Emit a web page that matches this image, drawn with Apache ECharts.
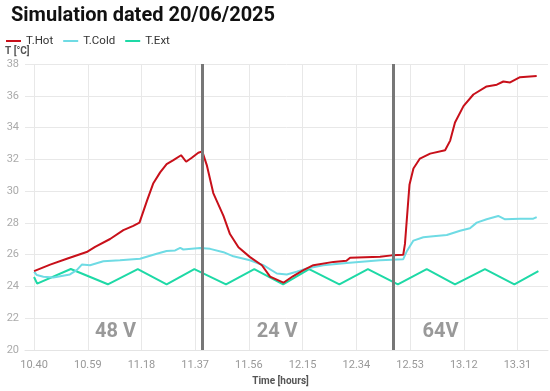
<!DOCTYPE html>
<html><head><meta charset="utf-8">
<script src="https://cdn.jsdelivr.net/npm/echarts@6/dist/echarts.min.js"></script>
<style>html,body{margin:0;padding:0;background:#fff}#c{width:550px;height:391px}</style>
</head><body><div id="c"></div>
<script>
// clock of minute 0 = 10:40
const startClock = 10 * 60 + 40;
const tickMinutes = [0, 19, 38, 57, 76, 95, 114, 133, 152, 171];

const hotT = [0, 5.7, 11.6, 18.6, 21.6, 26.9, 31.6, 35.1, 37.3, 39.9, 42.2, 44.6, 46.9, 49.3, 52.0, 53.8, 55.8, 58.1, 59.5, 61.1, 63.4, 67.0, 69.3, 72.3, 76.4, 80.6, 83.5, 88.2, 91.7, 95.3, 98.8, 105.9, 110.5, 111.8, 122.4, 126.5, 130.6, 131.2, 132.8, 134.2, 136.5, 140.1, 145.4, 147.2, 148.9, 151.9, 155.4, 160.1, 163.7, 166.0, 168.4, 171.9, 177.8];
const hotV = [24.97, 25.38, 25.75, 26.17, 26.5, 26.99, 27.55, 27.82, 28.02, 29.37, 30.5, 31.18, 31.7, 31.95, 32.26, 31.85, 32.1, 32.42, 32.5, 31.64, 29.88, 28.44, 27.3, 26.47, 25.85, 25.34, 24.62, 24.24, 24.66, 25.03, 25.34, 25.55, 25.62, 25.81, 25.88, 25.96, 26.0, 26.68, 30.4, 31.43, 32.05, 32.36, 32.57, 33.18, 34.32, 35.35, 36.08, 36.59, 36.7, 36.9, 36.84, 37.17, 37.25];

const coldT = [0, 1.0, 3.3, 6.8, 12.7, 15.1, 16.9, 19.8, 24.5, 30.4, 37.5, 43.4, 46.9, 49.9, 51.7, 52.8, 58.7, 62.3, 67.0, 70.5, 76.4, 81.1, 85.9, 89.4, 92.9, 96.5, 102.3, 110.6, 122.4, 130.6, 131.8, 134.2, 137.7, 141.2, 146.0, 150.7, 154.2, 156.6, 160.1, 164.2, 166.6, 171.9, 176.6, 177.8];
const coldV = [24.93, 24.72, 24.62, 24.57, 24.76, 25.03, 25.38, 25.34, 25.59, 25.65, 25.75, 26.06, 26.23, 26.27, 26.43, 26.33, 26.43, 26.37, 26.16, 25.9, 25.65, 25.34, 24.82, 24.76, 24.93, 25.13, 25.34, 25.48, 25.65, 25.72, 26.2, 26.89, 27.1, 27.16, 27.24, 27.51, 27.67, 28.02, 28.23, 28.44, 28.23, 28.27, 28.27, 28.37];

const extT = [0, 1.1, 13.0, 26.1, 36.7, 46.9, 56.7, 67.9, 77.9, 88.1, 97.3, 108.0, 118.1, 128.7, 138.9, 148.9, 159.5, 169.9, 178.4];
const extV = [24.6, 24.18, 25.1, 24.14, 25.1, 24.14, 25.1, 24.14, 25.1, 24.14, 25.1, 24.14, 25.1, 24.14, 25.1, 24.14, 25.1, 24.14, 24.97];

const markerMinutes = [59.4, 127.1];
const voltLabels = ['48 V', '24 V', '64V'];
const voltMinutes = [28.8, 86, 143.8];
const voltLevel = [21.15, 21.15, 21.15];

const zip = (a, b) => a.map((v, i) => [v, b[i]]);
const clock = v => {
  const t = startClock + Math.round(v);
  return Math.floor(t / 60) + '.' + String(t % 60).padStart(2, '0');
};

const chart = echarts.init(document.getElementById('c'), null, { renderer: 'canvas' });
const FONT = 'Roboto';
chart.setOption({
  animation: false,
  backgroundColor: '#fff',
  textStyle: { fontFamily: FONT },
  title: {
    text: 'Simulation dated 20/06/2025',
    left: 6, top: 1,
    textStyle: { fontFamily: FONT, fontWeight: 'bold', fontSize: 20, color: '#111' }
  },
  legend: {
    data: ['T.Hot', 'T.Cold', 'T.Ext'],
    left: 6, top: 35, padding: 0,
    icon: 'rect', itemWidth: 15, itemHeight: 2, itemGap: 10,
    textStyle: { fontFamily: FONT, fontSize: 11.5, color: '#333' }
  },
  graphic: [{
    type: 'text', left: 5, top: 46, silent: true,
    style: { text: 'T [°C]', font: 'bold 10px Roboto', fill: '#555' }
  }],
  grid: { left: 25, right: 2, top: 64, bottom: 37, containLabel: false },
  xAxis: {
    type: 'value', min: -3.2, max: 181.8,
    name: 'Time [hours]', nameLocation: 'middle', nameGap: 25,
    nameTextStyle: { fontFamily: FONT, fontWeight: 'bold', fontSize: 10, color: '#555', padding: [0, 12, 0, 0] },
    axisLine: { show: true, lineStyle: { color: '#e4e4e4' } },
    axisTick: { show: false, customValues: tickMinutes },
    axisLabel: { customValues: tickMinutes, formatter: clock, color: '#999', fontSize: 11, margin: 10, fontFamily: FONT },
    splitLine: { show: true, lineStyle: { color: '#e8e8e8', width: 1 } }
  },
  yAxis: {
    type: 'value', min: 20, max: 38, interval: 2,
    axisLine: { show: false }, axisTick: { show: false },
    axisLabel: { color: '#aaa', fontSize: 11, margin: 6, fontFamily: FONT },
    splitLine: { lineStyle: { color: '#e8e8e8', width: 1 } }
  },
  series: [
    {
      name: 'T.Hot', type: 'line', data: zip(hotT, hotV), showSymbol: false, symbol: 'none',
      lineStyle: { color: '#c8101a', width: 2 }, itemStyle: { color: '#c8101a' }, z: 4,
      markLine: {
        silent: true, symbol: 'none', label: { show: false },
        lineStyle: { color: '#777', width: 3, type: 'solid' },
        data: markerMinutes.map(m => ({ xAxis: m }))
      }
    },
    {
      name: 'T.Cold', type: 'line', data: zip(coldT, coldV), showSymbol: false, symbol: 'none',
      lineStyle: { color: '#6fdbe4', width: 2 }, itemStyle: { color: '#6fdbe4' }, z: 3
    },
    {
      name: 'T.Ext', type: 'line', data: zip(extT, extV), showSymbol: false, symbol: 'none',
      lineStyle: { color: '#1ed9a6', width: 2 }, itemStyle: { color: '#1ed9a6' }, z: 2
    },
    {
      name: 'volt', type: 'scatter', symbolSize: 0, silent: true,
      data: voltMinutes.map((m, i) => ({ value: [m, voltLevel[i]], name: voltLabels[i] })),
      label: { show: true, position: 'inside', formatter: p => p.name, fontFamily: FONT, fontWeight: 'bold', fontSize: 20, color: '#7f7f7f' }
    }
  ]
});
</script></body></html>
